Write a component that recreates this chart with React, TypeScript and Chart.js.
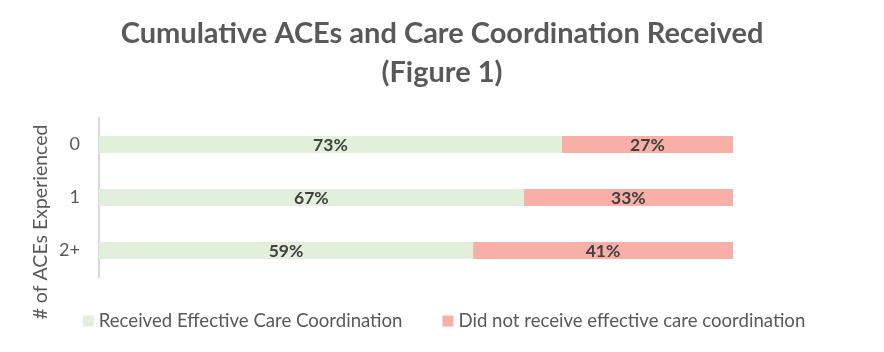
import React, { useEffect, useRef } from "react";
import { Chart, registerables } from "chart.js";

Chart.register(...registerables);

const categories = ["0", "1", "2+"];
const receivedValues = [73, 67, 59];
const notReceivedValues = [27, 33, 41];
const seriesLabels = ["Received Effective Care Coordination", "Did not receive effective care coordination"];
const titleLines = ["Cumulative ACEs and Care Coordination Received", "(Figure 1)"];
const yAxisTitle = "# of ACEs Experienced";

const GREEN = "#E2EFDA";
const RED = "#F8AFA8";
const FONT = "Lato, 'Open Sans', sans-serif";

const dataLabelPlugin = {
  id: "dataLabels",
  afterDatasetsDraw(chart: any) {
    const ctx = chart.ctx;
    ctx.save();
    ctx.font = `bold 17.5px ${FONT}`;
    ctx.fillStyle = "#404040";
    ctx.textAlign = "center";
    ctx.textBaseline = "middle";
    chart.data.datasets.forEach((ds: any, di: number) => {
      const meta = chart.getDatasetMeta(di);
      meta.data.forEach((el: any, i: number) => {
        const cx = (el.x + el.base) / 2;
        ctx.fillText(`${ds.data[i]}%`, cx, el.y + 1);
      });
    });
    ctx.restore();
  },
};

const yTitlePlugin = {
  id: "yTitle",
  afterDraw(chart: any) {
    const ctx = chart.ctx;
    ctx.save();
    ctx.font = `19.5px ${FONT}`;
    ctx.fillStyle = "#595959";
    ctx.textAlign = "center";
    ctx.textBaseline = "middle";
    ctx.translate(33, chart.chartArea.bottom - 55);
    ctx.rotate(-Math.PI / 2);
    ctx.fillText(yAxisTitle, 0, 0);
    ctx.restore();
  },
};

const legendPlugin = {
  id: "customLegend",
  afterDraw(chart: any) {
    const ctx = chart.ctx;
    ctx.save();
    ctx.font = `18.6px ${FONT}`;
    ctx.textBaseline = "middle";
    ctx.textAlign = "left";
    const box = 11;
    const boxGap = 5;
    const itemGap = 40;
    const items = chart.data.datasets.map((ds: any) => ({
      text: ds.label,
      color: ds.backgroundColor,
      w: box + boxGap + ctx.measureText(ds.label).width,
    }));
    const total = items.reduce((s: number, it: any) => s + it.w, 0) + itemGap * (items.length - 1);
    let x = chart.width / 2 - total / 2 + 2;
    const y = chart.chartArea.bottom + 44;
    items.forEach((it: any) => {
      ctx.fillStyle = it.color;
      ctx.fillRect(x, y - box / 2, box, box);
      ctx.fillStyle = "#595959";
      ctx.fillText(it.text, x + box + boxGap, y);
      x += it.w + itemGap;
    });
    ctx.restore();
  },
};

export default function App() {
  const ref = useRef<HTMLCanvasElement>(null);
  useEffect(() => {
    if (!ref.current) return;
    const chart = new Chart(ref.current, {
      type: "bar",
      data: {
        labels: categories,
        datasets: [
          { label: seriesLabels[0], data: receivedValues, backgroundColor: GREEN, barPercentage: 0.32, categoryPercentage: 1 },
          { label: seriesLabels[1], data: notReceivedValues, backgroundColor: RED, barPercentage: 0.32, categoryPercentage: 1 },
        ],
      },
      options: {
        indexAxis: "y",
        animation: false,
        responsive: true,
        maintainAspectRatio: false,
        layout: { padding: { left: 0, right: 0, top: 0, bottom: 67 } },
        plugins: {
          legend: { display: false },
          tooltip: { enabled: false },
          title: {
            display: true,
            text: titleLines,
            color: "#595959",
            font: { family: FONT, size: 29, weight: "bold", lineHeight: 1.345 },
            padding: { top: 6, bottom: 26 },
          },
        },
        scales: {
          x: { stacked: true, min: 0, max: 100, display: false },
          y: {
            stacked: true,
            grid: { display: false, drawTicks: false },
            border: { display: true, color: "#D9D9D9", width: 2 },
            ticks: { color: "#595959", font: { family: FONT, size: 18 }, padding: 19 },
            afterFit: (s: any) => { s.width = 91; },
          },
          y2: {
            type: "category",
            labels: categories,
            position: "right",
            display: true,
            grid: { display: false, drawTicks: false },
            border: { display: false },
            ticks: { display: false },
            afterFit: (s: any) => { s.width = 143; },
          },
        },
      },
      plugins: [dataLabelPlugin, yTitlePlugin, legendPlugin],
    } as any);
    return () => chart.destroy();
  }, []);
  return (
    <div style={{ width: "868px", height: "336px", position: "relative" }}>
      <canvas ref={ref} style={{ display: "block" }} />
    </div>
  );
}
